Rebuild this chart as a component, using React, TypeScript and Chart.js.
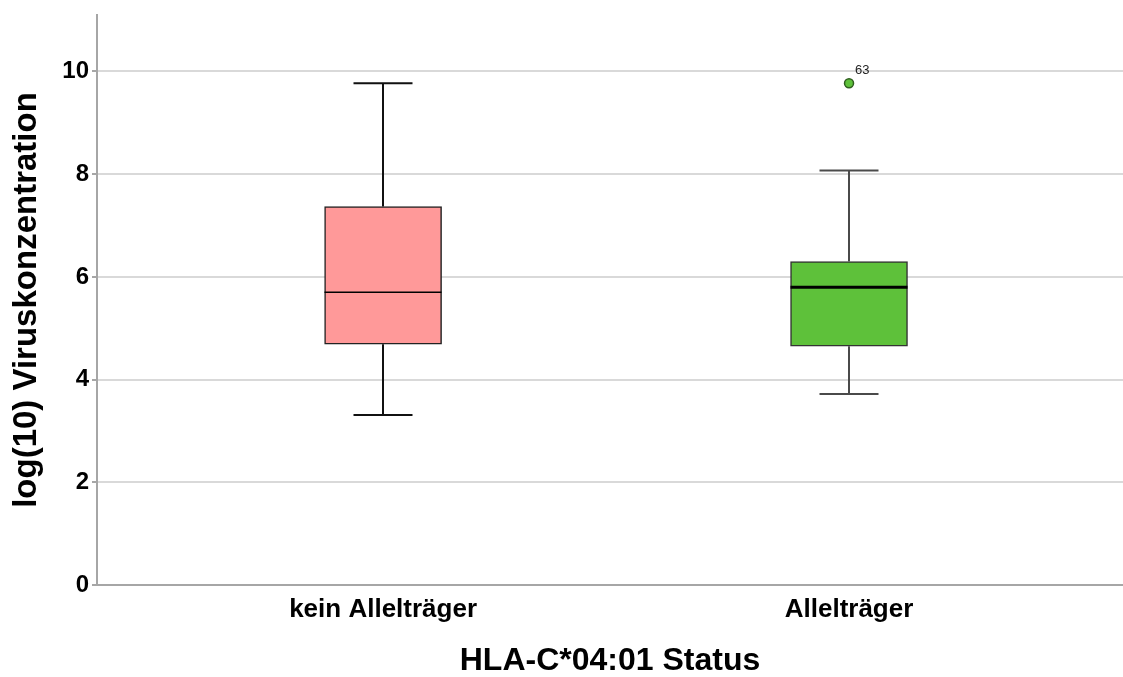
import React, { useEffect, useRef } from "react";
import { Chart, registerables } from "chart.js";

Chart.register(...registerables);

// ---- data ----
const categories = ["kein Allelträger", "Allelträger"];
const whiskerLow = [3.31, 3.72];
const q1 = [4.69, 4.65];
const median = [5.7, 5.8];
const q3 = [7.37, 6.3];
const whiskerHigh = [9.77, 8.07];
const outlierCategory = [1];
const outlierValues = [9.77];
const outlierLabels = ["63"];
const yTicks = [0, 2, 4, 6, 8, 10];

// ---- styles ----
const FONT = "'Liberation Sans', Arial, Helvetica, sans-serif";
const boxFill = ["#ff9999", "#5ec13a"];
const boxBorder = ["#222222", "#333333"];
const whiskerColor = ["#111111", "#4a4a4a"];
const whiskerWidth = [2, 2];
const medianWidth = [1.5, 3];
const CAP_HALF = 29.5;

const boxPlugin = {
  id: "boxWhiskers",
  afterDatasetsDraw(chart: any) {
    const xs = chart.scales.x;
    const ys = chart.scales.y;
    const ctx = chart.ctx;
    ctx.save();
    categories.forEach((_, i) => {
      const cx = Math.round(xs.getPixelForValue(i));
      const meta = chart.getDatasetMeta(0);
      const bar = meta.data[i];
      const half = bar ? bar.width / 2 : 58;
      ctx.strokeStyle = whiskerColor[i];
      ctx.lineWidth = whiskerWidth[i];
      ctx.lineCap = "butt";
      const yQ1 = ys.getPixelForValue(q1[i]);
      const yQ3 = ys.getPixelForValue(q3[i]);
      const yLo = ys.getPixelForValue(whiskerLow[i]);
      const yHi = ys.getPixelForValue(whiskerHigh[i]);
      ctx.beginPath();
      ctx.moveTo(cx, yQ3);
      ctx.lineTo(cx, yHi);
      ctx.moveTo(cx - CAP_HALF, yHi);
      ctx.lineTo(cx + CAP_HALF, yHi);
      ctx.moveTo(cx, yQ1);
      ctx.lineTo(cx, yLo);
      ctx.moveTo(cx - CAP_HALF, yLo);
      ctx.lineTo(cx + CAP_HALF, yLo);
      ctx.stroke();
      // median
      const yMed = ys.getPixelForValue(median[i]);
      ctx.strokeStyle = "#000000";
      ctx.lineWidth = medianWidth[i];
      ctx.beginPath();
      ctx.moveTo(cx - half, yMed);
      ctx.lineTo(cx + half, yMed);
      ctx.stroke();
    });
    // outlier labels
    ctx.fillStyle = "#222222";
    ctx.font = `13px ${FONT}`;
    ctx.textAlign = "left";
    ctx.textBaseline = "alphabetic";
    outlierValues.forEach((v, k) => {
      const px = xs.getPixelForValue(outlierCategory[k]);
      const py = ys.getPixelForValue(v);
      ctx.fillText(outlierLabels[k], px + 6, py - 9);
    });
    ctx.restore();
  },
};

export default function App() {
  const ref = useRef<HTMLCanvasElement | null>(null);

  useEffect(() => {
    if (!ref.current) return;
    const chart = new Chart(ref.current, {
      type: "bar",
      data: {
        datasets: [
          {
            type: "bar",
            data: categories.map((_, i) => ({ x: i, y: [q1[i], q3[i]] })) as any,
            backgroundColor: boxFill,
            borderColor: boxBorder,
            borderWidth: 1.5,
            borderSkipped: false,
            barThickness: 117,
            grouped: false,
          } as any,
          {
            type: "scatter",
            data: outlierValues.map((v, k) => ({ x: outlierCategory[k], y: v })),
            backgroundColor: boxFill[1],
            borderColor: "#2f5e1f",
            borderWidth: 1.5,
            pointRadius: 4.5,
          } as any,
        ],
      },
      options: {
        animation: false,
        responsive: false,
        maintainAspectRatio: false,
        layout: { padding: { top: 14, left: 0, right: 0, bottom: 0 } },
        plugins: {
          legend: { display: false },
          tooltip: { enabled: false },
        },
        scales: {
          x: {
            type: "linear",
            offset: false,
            min: -0.614,
            max: 1.588,
            afterBuildTicks: (s: any) => {
              s.ticks = categories.map((_, i) => ({ value: i }));
            },
            afterFit: (s: any) => {
              s.height = 92;
            },
            ticks: {
              callback: (v: any) => categories[v] ?? "",
              font: { family: FONT, weight: "bold", size: 26 },
              color: "#000",
              padding: 9,
              autoSkip: false,
              maxRotation: 0,
            },
            grid: { display: false, drawTicks: false, offset: false },
            border: { display: true, color: "#a6a6a6", width: 2 },
            title: {
              display: true,
              text: "HLA-C*04:01 Status",
              font: { family: FONT, weight: "bold", size: 32, lineHeight: 1 },
              color: "#000",
              padding: 0,
            },
          },
          y: {
            type: "linear",
            min: 0,
            max: 11.1,
            afterBuildTicks: (s: any) => {
              s.ticks = yTicks.map((v) => ({ value: v }));
            },
            afterFit: (s: any) => {
              s.width = 97;
            },
            ticks: {
              font: { family: FONT, weight: "bold", size: 24, lineHeight: 1 },
              color: "#000",
              padding: 3,
            },
            grid: {
              color: "#d9d9d9",
              lineWidth: 2,
              drawTicks: true,
              tickLength: 5,
              tickColor: "#a6a6a6",
            },
            border: { display: true, color: "#a6a6a6", width: 2 },
            title: {
              display: true,
              text: "log(10) Viruskonzentration",
              font: { family: FONT, weight: "bold", size: 33, lineHeight: 1.2 },
              color: "#000",
              padding: { top: 7, bottom: 0 },
            },
          },
        },
      } as any,
      plugins: [boxPlugin],
    });
    return () => chart.destroy();
  }, []);

  return (
    <div
      style={{
        position: "fixed",
        left: 0,
        top: 0,
        width: 1123,
        height: 677,
        overflow: "hidden",
        background: "#fff",
      }}
    >
      <canvas ref={ref} width={1129} height={677} style={{ display: "block" }} />
    </div>
  );
}
